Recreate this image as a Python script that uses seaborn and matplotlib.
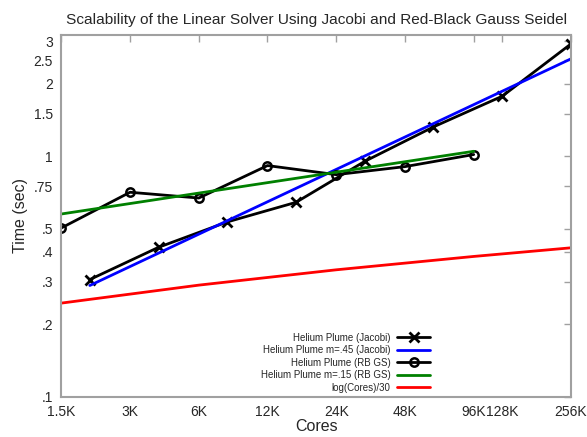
import matplotlib
matplotlib.use("Agg")
import matplotlib.pyplot as plt
import seaborn as sns
import pandas as pd

# Measured runs (cores, seconds)
jacobi_cores = [2048, 4096, 8192, 16384, 32768, 65536, 131072, 262144]
jacobi_time = [0.307, 0.418, 0.533, 0.643, 0.952, 1.324, 1.776, 2.93]

rbgs_cores = [1536, 3072, 6144, 12288, 24576, 49152, 98304]
rbgs_time = [0.503, 0.708, 0.670, 0.914, 0.838, 0.905, 1.016]

# Fitted lines (end points)
jacobi_fit_cores = [2048, 262144]
jacobi_fit_time = [0.290, 2.54]
rbgs_fit_cores = [1536, 98304]
rbgs_fit_time = [0.575, 1.048]

# log(Cores)/30 reference
ref_cores = [1536, 6144, 24576, 98304, 262144]
ref_time = [0.245, 0.291, 0.337, 0.383, 0.416]

xtick_vals = [1536, 3072, 6144, 12288, 24576, 49152, 98304, 131072, 262144]
xtick_labels = ["1.5K", "3K", "6K", "12K", "24K", "48K", "96K", "128K", "256K"]
ytick_vals = [0.1, 0.2, 0.3, 0.4, 0.5, 0.75, 1, 1.5, 2, 2.5, 3]
ytick_labels = [".1", ".2", ".3", ".4", ".5", ".75", "1", "1.5", "2", "2.5", "3"]

sns.set_theme(style="white")
plt.rcParams["font.family"] = ["Liberation Sans", "DejaVu Sans"]

frame = "#a0a0a0"

fig = plt.figure(figsize=(5.87, 4.37), dpi=100)
ax = fig.add_axes([0.1044, 0.0922, 0.8683, 0.8284])

sns.lineplot(x=jacobi_cores, y=jacobi_time, ax=ax, color="black", lw=2,
             marker="x", markersize=6.5, markeredgewidth=2, markeredgecolor="black",
             label="Helium Plume (Jacobi)")
sns.lineplot(x=jacobi_fit_cores, y=jacobi_fit_time, ax=ax, color="#0000ff", lw=2,
             label="Helium Plume m=.45 (Jacobi)")
sns.lineplot(x=rbgs_cores, y=rbgs_time, ax=ax, color="black", lw=2,
             marker="o", markersize=6, markerfacecolor="none",
             markeredgecolor="black", markeredgewidth=1.8,
             label="Helium Plume (RB GS)")
sns.lineplot(x=rbgs_fit_cores, y=rbgs_fit_time, ax=ax, color="#008000", lw=2,
             label="Helium Plume m=.15 (RB GS)")
sns.lineplot(x=ref_cores, y=ref_time, ax=ax, color="#ff0000", lw=2,
             label="log(Cores)/30")

ax.set_xscale("log")
ax.set_yscale("log")
ax.set_xlim(1536, 262144)
ax.set_ylim(0.1, 3.2)
ax.set_xticks(xtick_vals)
ax.set_xticklabels(xtick_labels)
ax.set_yticks(ytick_vals)
ax.set_yticklabels(ytick_labels)
ax.minorticks_off()

ax.tick_params(axis="both", which="major", direction="in", length=5, width=1,
               color=frame, labelsize=10, top=True, right=True, pad=6)
for s in ax.spines.values():
    s.set_color(frame)
    s.set_linewidth(1.5)

ax.set_xlabel("Cores", fontsize=11.5, labelpad=0)
ax.set_ylabel("Time (sec)", fontsize=11.5, labelpad=4)
ax.set_title("Scalability of the Linear Solver Using Jacobi and Red-Black Gauss Seidel",
             fontsize=11.1, pad=8)

ax.legend(loc="lower right", bbox_to_anchor=(0.737, -0.008), frameon=False,
          markerfirst=False, fontsize=7, handlelength=3.4, labelspacing=0.26,
          handletextpad=0.7, borderpad=0.2)

fig.savefig("out.png", dpi=100)
